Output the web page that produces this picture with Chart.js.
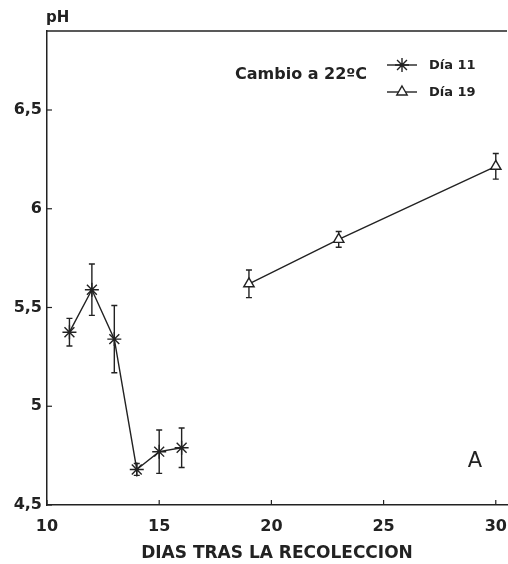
<!DOCTYPE html>
<html>
<head>
<meta charset="utf-8">
<script src="https://cdn.jsdelivr.net/npm/chart.js@4.4.1/dist/chart.umd.min.js"></script>
<style>
  body { margin: 0; background: #fff; }
  #wrap { width: 508px; height: 564px; }
</style>
</head>
<body>
<div id="wrap"><canvas id="phChart"></canvas></div>
<script>
// Data
const dia11Days = [11, 12, 13, 14, 15, 16];
const dia11PH = [5.375, 5.59, 5.34, 4.68, 4.77, 4.79];
const dia11Err = [0.07, 0.13, 0.17, 0.03, 0.11, 0.10];

const dia19Days = [19, 23, 30];
const dia19PH = [5.62, 5.845, 6.215];
const dia19Err = [0.07, 0.04, 0.065];

const xTicks = [10, 15, 20, 25, 30];
const yTicks = [4.5, 5, 5.5, 6, 6.5];

const ink = "#222";
const font = "DejaVu Sans";

// error bars, inward ticks, top border, legend and labels
const extras = {
    id: "extras",
    beforeDatasetsDraw(chart) {
        const ctx = chart.ctx;
        const x = chart.scales.x, y = chart.scales.y;
        const errs = [dia11Err, dia19Err];
        ctx.save();
        ctx.strokeStyle = ink;
        ctx.lineWidth = 1.4;
        chart.data.datasets.forEach((ds, i) => {
            ds.data.forEach((p, j) => {
                const px = x.getPixelForValue(p.x);
                const top = y.getPixelForValue(p.y + errs[i][j]);
                const bot = y.getPixelForValue(p.y - errs[i][j]);
                ctx.beginPath();
                ctx.moveTo(px, top); ctx.lineTo(px, bot);
                ctx.moveTo(px - 3, top); ctx.lineTo(px + 3, top);
                ctx.moveTo(px - 3, bot); ctx.lineTo(px + 3, bot);
                ctx.stroke();
            });
        });
        ctx.restore();
    },
    afterDraw(chart) {
        const ctx = chart.ctx;
        const area = chart.chartArea;
        const x = chart.scales.x, y = chart.scales.y;
        ctx.save();
        ctx.strokeStyle = ink;
        ctx.fillStyle = ink;
        ctx.lineWidth = 1.5;

        // top border
        ctx.beginPath();
        ctx.moveTo(area.left, area.top);
        ctx.lineTo(area.right, area.top);
        ctx.stroke();

        // inward ticks
        ctx.lineWidth = 1.2;
        yTicks.forEach(v => {
            const py = y.getPixelForValue(v);
            ctx.beginPath();
            ctx.moveTo(area.left, py); ctx.lineTo(area.left + 5, py);
            ctx.stroke();
        });
        xTicks.forEach(v => {
            const px = x.getPixelForValue(v);
            ctx.beginPath();
            ctx.moveTo(px, area.bottom); ctx.lineTo(px, area.bottom - 5);
            ctx.stroke();
        });

        // axis unit
        ctx.font = "bold 15px '" + font + "'";
        ctx.textBaseline = "middle";
        ctx.textAlign = "left";
        ctx.fillText("pH", 46, 18);

        // note
        ctx.font = "bold 16px '" + font + "'";
        ctx.fillText("Cambio a 22ºC", 235, 75);

        // legend
        ctx.font = "bold 13px '" + font + "'";
        chart.data.datasets.forEach((ds, i) => {
            const ly = 65 + i * 27;
            ctx.lineWidth = 1.4;
            ctx.beginPath();
            ctx.moveTo(387, ly); ctx.lineTo(417, ly);
            ctx.stroke();
            ctx.fillStyle = "#fff";
            Chart.helpers.drawPoint(ctx, {
                pointStyle: ds.pointStyle, radius: ds.pointRadius, borderWidth: 1.4
            }, 402, ly);
            ctx.fillStyle = ink;
            ctx.fillText(ds.label, 429, ly + 1);
        });

        // panel letter
        ctx.font = "21px '" + font + "'";
        ctx.textAlign = "center";
        ctx.fillText("A", 475, 462);
        ctx.restore();
    }
};

new Chart(document.getElementById("phChart"), {
    type: "line",
    data: {
        datasets: [
            {
                label: "Día 11",
                data: dia11Days.map((d, i) => ({ x: d, y: dia11PH[i] })),
                pointStyle: "star",
                pointRadius: 7
            },
            {
                label: "Día 19",
                data: dia19Days.map((d, i) => ({ x: d, y: dia19PH[i] })),
                pointStyle: "triangle",
                pointRadius: 6
            }
        ].map(ds => Object.assign(ds, {
            borderColor: ink,
            backgroundColor: "#fff",
            borderWidth: 1.4,
            pointBorderWidth: 1.4,
            tension: 0
        }))
    },
    options: {
        responsive: true,
        maintainAspectRatio: false,
        animation: false,
        layout: { autoPadding: false, padding: { top: 31, right: 1, left: 0, bottom: 0 } },
        plugins: { legend: { display: false }, tooltip: { enabled: false } },
        scales: {
            x: {
                type: "linear",
                min: 10,
                max: 30.5,
                afterBuildTicks: s => { s.ticks = xTicks.map(v => ({ value: v })); },
                afterFit: s => { s.height = 59; s.paddingLeft = 0; s.paddingRight = 0; },
                grid: { display: false, drawTicks: false },
                border: { color: ink, width: 1.5 },
                ticks: { color: ink, padding: 12, font: { family: font, size: 16, weight: "bold" } },
                title: {
                    display: true,
                    text: "DIAS TRAS LA RECOLECCION",
                    color: ink,
                    padding: { top: 0, bottom: 0 },
                    font: { family: font, size: 17, weight: "bold" }
                }
            },
            y: {
                min: 4.5,
                max: 6.9,
                afterBuildTicks: s => { s.ticks = yTicks.map(v => ({ value: v })); },
                afterFit: s => { s.width = 47; s.paddingTop = 0; s.paddingBottom = 0; },
                grid: { display: false, drawTicks: false },
                border: { color: ink, width: 1.5 },
                ticks: {
                    color: ink,
                    padding: 5,
                    font: { family: font, size: 16, weight: "bold" },
                    callback: v => String(v).replace(".", ",")
                }
            }
        }
    },
    plugins: [extras]
});
</script>
</body>
</html>
